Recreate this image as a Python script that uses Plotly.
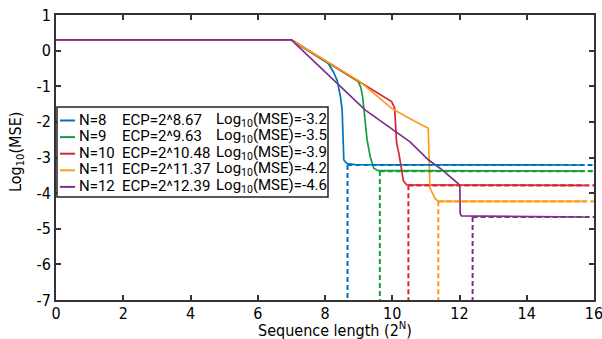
import plotly.graph_objects as go

# ---- data ----
n_labels = ["N=8", "N=9", "N=10", "N=11", "N=12"]
ecp_exp = [8.67, 9.63, 10.48, 11.37, 12.39]
mse_labels = ["-3.2", "-3.5", "-3.9", "-4.2", "-4.6"]
plateau = [-3.21, -3.38, -3.78, -4.23, -4.67]
colors = ["#0072BD", "#12A03C", "#D7262E", "#FF9A1F", "#7E2F8E"]

x_n8 = [0, 7.0, 8.10, 8.25, 8.36, 8.46, 8.51, 8.54, 8.56, 8.65, 8.9, 15.72]
y_n8 = [0.3, 0.3, -0.36, -0.6, -0.83, -1.29, -1.67, -2.32, -3.07, -3.17, -3.2, -3.21]

x_n9 = [0, 7.0, 8.99, 9.07, 9.12, 9.25, 9.35, 9.45, 9.58, 15.72]
y_n9 = [0.3, 0.3, -0.87, -1.05, -1.3, -2.5, -3.0, -3.3, -3.37, -3.38]

x_n10 = [0, 7.0, 9.98, 10.07, 10.13, 10.2, 10.33, 10.43, 15.72]
y_n10 = [0.3, 0.3, -1.43, -1.6, -2.6, -2.9, -3.65, -3.77, -3.78]

x_n11 = [0, 7.0, 9.04, 9.98, 10.43, 11.07, 11.12, 11.27, 11.37, 15.72]
y_n11 = [0.3, 0.3, -0.87, -1.62, -1.86, -2.18, -3.85, -4.15, -4.23, -4.23]

x_n12 = [0, 7.0, 9.2, 9.98, 10.53, 11.08, 11.42, 11.96, 12.01, 12.02, 12.06, 15.72]
y_n12 = [0.3, 0.3, -1.67, -2.2, -2.56, -3.07, -3.3, -3.73, -3.82, -4.57, -4.64, -4.67]

curves_x = [x_n8, x_n9, x_n10, x_n11, x_n12]
curves_y = [y_n8, y_n9, y_n10, y_n11, y_n12]

x_ticks = [0, 2, 4, 6, 8, 10, 12, 14, 16]
y_ticks = [1, 0, -1, -2, -3, -4, -5, -6, -7]
y_ticktext = ["1", "0", "-1", "-2", "-3", "-4", "-5", "-6", "-7"]
x_title = "Sequence length (2<sup>N</sup>)"
y_title = "Log<sub>10</sub>(MSE)"

FONT = "DejaVu Sans Condensed, Roboto, sans-serif"
LEG_FONT = "Roboto, sans-serif"
AXC = "#333333"

fig = go.Figure()

for i in range(5):
    fig.add_trace(go.Scatter(x=curves_x[i], y=curves_y[i], mode="lines",
                             line=dict(color=colors[i], width=1.7),
                             showlegend=False, hoverinfo="skip"))

for i in range(5):
    # horizontal dashed at plateau from ECP to the right edge
    fig.add_trace(go.Scatter(x=[ecp_exp[i], 16], y=[plateau[i], plateau[i]], mode="lines",
                             line=dict(color=colors[i], width=2.2, dash="5px,3px"),
                             showlegend=False, hoverinfo="skip"))
    # vertical dashed at ECP down to the axis bottom
    fig.add_trace(go.Scatter(x=[ecp_exp[i], ecp_exp[i]], y=[plateau[i], -7], mode="lines",
                             line=dict(color=colors[i], width=2, dash="5px,3px"),
                             showlegend=False, hoverinfo="skip"))

# ---- custom legend (box + rows) ----
W, H, L, T, R, B = 602, 339, 56, 15, 8, 39
PW, PH = W - L - R, H - T - B


def px2paper_x(px):
    return (px - L) / PW


def px2paper_y(py):
    return (T + PH - py) / PH


shapes = [dict(type="rect", xref="paper", yref="paper",
               x0=px2paper_x(57), x1=px2paper_x(328),
               y0=px2paper_y(197), y1=px2paper_y(107),
               line=dict(color="#222222", width=1.5), fillcolor="white", layer="above")]
annotations = []
row0, dy = 119.5, 16.6
for i in range(5):
    yc = row0 + dy * i
    shapes.append(dict(type="line", xref="paper", yref="paper",
                       x0=px2paper_x(60), x1=px2paper_x(75),
                       y0=px2paper_y(yc + 1), y1=px2paper_y(yc + 1),
                       line=dict(color=colors[i], width=2), layer="above"))
    cols = [(77, n_labels[i]), (120, "ECP=2^%.2f" % ecp_exp[i]),
            (214, "Log<sub>10</sub>(MSE)=" + mse_labels[i])]
    for cx, txt in cols:
        annotations.append(dict(xref="paper", yref="paper", x=px2paper_x(cx), y=px2paper_y(yc),
                                xanchor="left", yanchor="middle", text=txt, showarrow=False,
                                font=dict(family=LEG_FONT, size=15, color="black")))

# axis titles as annotations for exact placement
annotations.append(dict(xref="paper", yref="paper", x=px2paper_x(335), y=px2paper_y(329),
                        xanchor="center", yanchor="middle", text=x_title, showarrow=False,
                        font=dict(family=FONT, size=16, color="black")))
annotations.append(dict(xref="paper", yref="paper", x=px2paper_x(16), y=px2paper_y(152),
                        xanchor="center", yanchor="middle", text=y_title, showarrow=False,
                        textangle=-90, font=dict(family=FONT, size=16, color="black")))

fig.update_layout(
    width=W, height=H,
    margin=dict(l=L, r=R, t=T, b=B, autoexpand=False),
    paper_bgcolor="white", plot_bgcolor="white",
    font=dict(family=FONT, size=15, color="black"),
    shapes=shapes, annotations=annotations,
    xaxis=dict(range=[0, 16], tickvals=x_ticks, ticks="inside", ticklen=5, tickwidth=1.5,
               tickcolor=AXC, showline=True, linecolor=AXC, linewidth=2, mirror="ticks",
               showgrid=False, zeroline=False, tickfont=dict(size=16), automargin=False,
               ticklabeloverflow="allow", ticklabelstandoff=-2),
    yaxis=dict(range=[-7, 1], tickvals=y_ticks, ticktext=y_ticktext, ticks="inside", ticklen=5,
               tickwidth=1.5, tickcolor=AXC, showline=True, linecolor=AXC, linewidth=2,
               mirror="ticks", showgrid=False, zeroline=False, tickfont=dict(size=16),
               automargin=False, ticklabeloverflow="allow"),
)

fig.write_html("out.html", config={"displayModeBar": False},
               post_script="document.body.style.margin='0px';")
